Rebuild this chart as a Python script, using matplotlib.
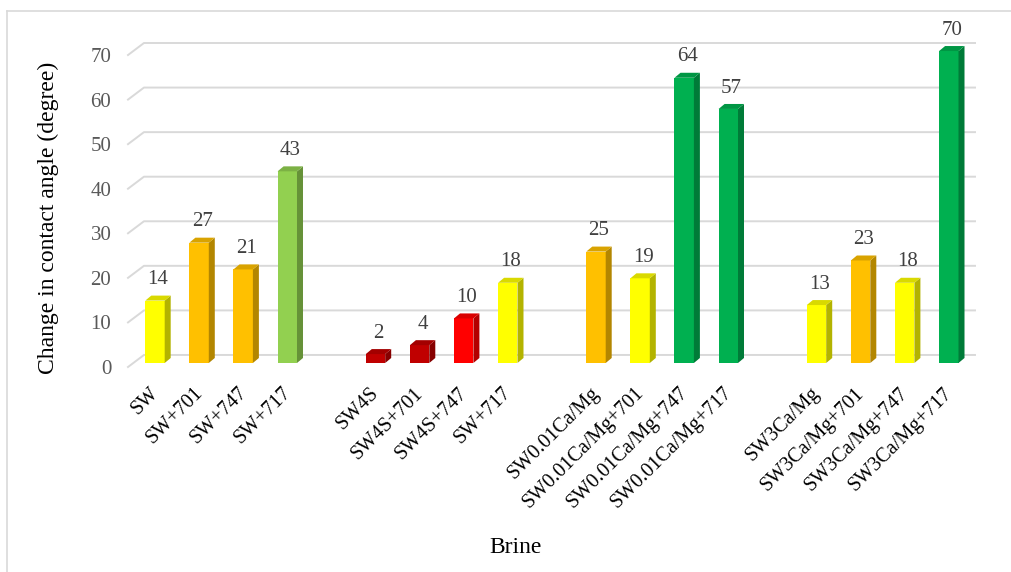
import numpy as np
import matplotlib
matplotlib.use('Agg')
import matplotlib.pyplot as plt
import matplotlib.transforms as mtransforms
from matplotlib.patches import Polygon
from matplotlib.lines import Line2D
from matplotlib.colors import to_rgb

plt.rcParams['font.family'] = ['Liberation Serif', 'DejaVu Serif']

# data
brines = ['SW', 'SW+701', 'SW+747', 'SW+717',
          'SW4S', 'SW4S+701', 'SW4S+747', 'SW+717',
          'SW0.01Ca/Mg', 'SW0.01Ca/Mg+701', 'SW0.01Ca/Mg+747', 'SW0.01Ca/Mg+717',
          'SW3Ca/Mg', 'SW3Ca/Mg+701', 'SW3Ca/Mg+747', 'SW3Ca/Mg+717']
change = [14, 27, 21, 43,
          2, 4, 10, 18,
          25, 19, 64, 57,
          13, 23, 18, 70]
bar_colors = ['#FFFF00', '#FFC000', '#FFC000', '#92D050',
              '#C00000', '#C00000', '#FF0000', '#FFFF00',
              '#FFC000', '#FFFF00', '#00B050', '#00B050',
              '#FFFF00', '#FFC000', '#FFFF00', '#00B050']
ytick_vals = [0, 10, 20, 30, 40, 50, 60, 70]

# 4 bars per group, one empty slot between groups
xpos = [g * 5 + i for g in range(4) for i in range(4)]

W, H = 1011, 572
fig = plt.figure(figsize=(W / 100, H / 100), dpi=100)
ax = fig.add_axes([128 / W, 1 - 367 / H, (975 - 128) / W, (367 - 43) / H])
x0, x1 = -0.612, 18.594
ax.set_xlim(x0, x1)
ax.set_ylim(-0.9, 71.8)
ax.patch.set_visible(False)
for s in ax.spines.values():
    s.set_visible(False)

front_dy = -0.9   # front plane (tick labels)
back_dx, back_dy = -0.25, 1.8  # back wall
grid_c = '#D9D9D9'
for t in ytick_vals:
    ax.plot([x0, back_dx, x1], [t + front_dy, t + back_dy, t + back_dy],
            color=grid_c, lw=1.4, clip_on=False, zorder=0)


def shade(c, f):
    r, g, b = to_rgb(c)
    return (r * f, g * f, b * f)


w = 0.44
dx, dy = 0.136, 1.12
ax.bar(xpos, change, width=w, color=bar_colors, zorder=3, linewidth=0)
for x, v, c in zip(xpos, change, bar_colors):
    r = x + w / 2
    side = Polygon([(r, 0), (r + dx, dy), (r + dx, v + dy), (r, v)],
                   closed=True, facecolor=shade(c, 0.7), lw=0, zorder=3)
    top = Polygon([(x - w / 2, v), (r, v), (r + dx, v + dy), (x - w / 2 + dx, v + dy)],
                  closed=True, facecolor=shade(c, 0.85), lw=0, zorder=3)
    ax.add_patch(side)
    ax.add_patch(top)
    ax.annotate(str(v), (x + dx / 2, v), xytext=(0, 15), textcoords='offset points',
                ha='center', va='center', fontsize=15, color='#404040')

ax.set_yticks([t + front_dy for t in ytick_vals])
ax.set_yticklabels([str(t) for t in ytick_vals])
ax.tick_params(axis='y', length=0, pad=12, labelcolor='#595959', labelsize=15)

ax.set_xticks(xpos)
ax.set_xticklabels(brines, rotation=45, ha='right', rotation_mode='anchor', fontsize=14.5)
ax.tick_params(axis='x', length=0, pad=12, labelcolor='black')
shift = mtransforms.ScaledTranslation(-6 / 100, 0, fig.dpi_scale_trans)
for lab in ax.get_xticklabels():
    lab.set_transform(lab.get_transform() + shift)

ax.set_ylabel('Change in contact angle (degree)', fontsize=17)
ax.yaxis.set_label_coords(-0.082, 0.46)
ax.set_xlabel('Brine', fontsize=17)
ax.xaxis.set_label_coords(0.457, -0.525)

# chart area border
fig.add_artist(Line2D([7 / W, 7 / W], [0, 1 - 11 / H], transform=fig.transFigure,
                      color=grid_c, lw=1.2))
fig.add_artist(Line2D([7 / W, 1], [1 - 11 / H, 1 - 11 / H], transform=fig.transFigure,
                      color=grid_c, lw=1.2))

fig.savefig('out.png', dpi=100)
